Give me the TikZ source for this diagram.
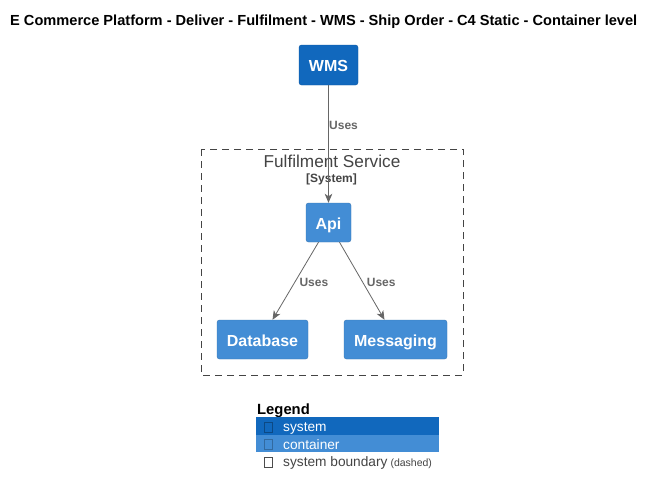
\documentclass[tikz,border=0pt]{standalone}
\usepackage{fontspec}
\setmainfont{Liberation Sans}
\usetikzlibrary{arrows.meta}
\definecolor{sysblue}{HTML}{1168BD}
\definecolor{contblue}{HTML}{438DD5}
\definecolor{bndgray}{HTML}{444444}
\definecolor{relgray}{HTML}{666666}
\begin{document}
\begin{tikzpicture}[x=1pt,y=-1pt,
  boxbase/.style={line width=0.4pt,rounded corners=2.5pt,text=white,font=\fontsize{16}{18}\selectfont\bfseries,inner sep=0pt,text height=13pt,text depth=0pt},
  sysbox/.style={boxbase,fill=sysblue,draw=sysblue!85!black},
  contbox/.style={boxbase,fill=contblue,draw=contblue!85!black},
  rel/.style={draw=relgray,line width=0.8pt,-{Stealth[length=9pt,width=7.5pt,inset=2.5pt]}},
  rellabel/.style={text=relgray,font=\fontsize{12}{14}\selectfont\bfseries,inner sep=0pt,anchor=base west},
  legtext/.style={font=\fontsize{13.7}{16}\selectfont,inner sep=0pt,anchor=base west},
  tofu/.style={draw,line width=0.5pt}
]
\useasboundingbox (0,0) rectangle (656,496);
\fill[white] (0,0) rectangle (656,496);
\node[font=\fontsize{14.6}{16}\selectfont\bfseries,inner sep=0pt,anchor=base west] (title) at (10,25) {E Commerce Platform - Deliver - Fulfilment - WMS - Ship Order - C4 Static - Container level};

% boundary
\draw[bndgray,dashed,dash pattern=on 7pt off 5pt,line width=0.9pt] (201,149) rectangle (463,375);
\node[text=bndgray,font=\fontsize{17.2}{19}\selectfont,inner sep=0pt,anchor=base] (bt) at (332,167.3) {Fulfilment Service};
\node[text=bndgray,font=\fontsize{12}{14}\selectfont\bfseries,inner sep=0pt,anchor=base] (bs) at (331.5,182.3) {[System]};

% nodes
\node[sysbox,minimum width=59pt,minimum height=40pt] (wms) at (328.5,65) {WMS};
\node[contbox,minimum width=45pt,minimum height=39pt] (api) at (328.5,222.5) {Api};
\node[contbox,minimum width=91pt,minimum height=39pt] (db) at (262.5,339.5) {Database};
\node[contbox,minimum width=103pt,minimum height=39pt] (msg) at (395.5,339.5) {Messaging};

% connectors
\draw[rel] (wms.south) -- (api.north);
\node[rellabel] (l1) at (329,129.5) {Uses};
\draw[rel] ([xshift=-10pt]api.south) -- ([xshift=10pt]db.north);
\node[rellabel] (l2) at (299.3,286) {Uses};
\draw[rel] ([xshift=11pt]api.south) -- ([xshift=-11pt]msg.north);
\node[rellabel] (l3) at (366.7,286) {Uses};

% legend
\node[font=\fontsize{14.8}{16}\selectfont\bfseries,inner sep=0pt,anchor=base west] (lg) at (257,414) {Legend};
\fill[sysblue] (256,417) rectangle (439,435);
\fill[contblue] (256,435) rectangle (439,452);
\draw[tofu,draw=sysblue!70!black] (264.5,422) rectangle (272.5,432);
\draw[tofu,draw=contblue!75!black] (264.5,439.5) rectangle (272.5,449.5);
\draw[tofu,draw=black!70] (264.5,457) rectangle (272.5,467);
\node[legtext,text=white] (ls) at (283,431.7) {system};
\node[legtext,text=white] (lc) at (283,449) {container};
\node[legtext,text=bndgray] (lb) at (283,466.7) {system boundary\hspace{3pt}{\fontsize{10.5}{11}\selectfont (dashed)}};
\end{tikzpicture}
\end{document}
